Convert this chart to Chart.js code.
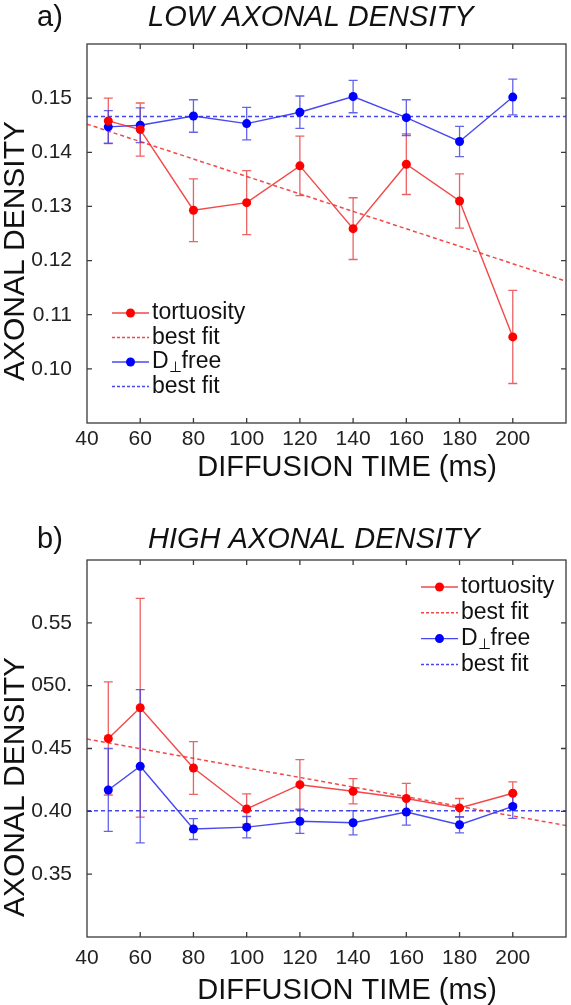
<!DOCTYPE html>
<html>
<head>
<meta charset="utf-8">
<script src="https://cdn.jsdelivr.net/npm/chart.js@4.4.1/dist/chart.umd.min.js"></script>
<style>
  html, body { margin: 0; padding: 0; background: #fff; }
  canvas { display: block; }
</style>
</head>
<body>
<canvas id="lowChart" width="571" height="500"></canvas>
<canvas id="highChart" width="571" height="505"></canvas>
<script>
const FONT = '"Liberation Sans", Arial, sans-serif';

// diffusion times (ms)
const times = [48, 60, 80, 100, 120, 140, 160, 180, 200];
const fitTimes = [40, 220];
const xTicks = [40, 60, 80, 100, 120, 140, 160, 180, 200];

// a) low axonal density
const lowTortuosity = [0.1458, 0.1442, 0.1293, 0.1307, 0.1375, 0.1259, 0.1378, 0.1310, 0.1059];
const lowTortuosityErr = [0.0042, 0.0049, 0.0058, 0.0059, 0.0055, 0.0057, 0.0056, 0.0050, 0.0086];
const lowDfree = [0.1447, 0.1450, 0.1467, 0.1453, 0.1474, 0.1503, 0.1464, 0.1420, 0.1502];
const lowDfreeErr = [0.0030, 0.0032, 0.0030, 0.0030, 0.0030, 0.0030, 0.0033, 0.0028, 0.0033];
const lowTortuosityFit = [0.1452, 0.1162];
const lowDfreeFit = [0.1466, 0.1466];
const lowYTicks = [0.10, 0.11, 0.12, 0.13, 0.14, 0.15];
const lowYTickLabels = ['0.10', '0.11', '0.12', '0.13', '0.14', '0.15'];

// b) high axonal density
const highTortuosity = [0.4580, 0.4824, 0.4345, 0.4019, 0.4212, 0.4160, 0.4102, 0.4027, 0.4144];
const highTortuosityErr = [0.045, 0.087, 0.021, 0.012, 0.020, 0.010, 0.012, 0.0075, 0.009];
const highDfree = [0.4170, 0.4359, 0.3859, 0.3874, 0.3921, 0.3909, 0.3995, 0.3893, 0.4039];
const highDfreeErr = [0.033, 0.061, 0.0083, 0.0085, 0.0097, 0.0097, 0.0105, 0.0065, 0.0095];
const highTortuosityFit = [0.4575, 0.3887];
const highDfreeFit = [0.4005, 0.4005];
const highYTicks = [0.35, 0.40, 0.45, 0.50, 0.55];
const highYTickLabels = ['0.35', '0.40', '0.45', '050.', '0.55'];

const RED = '#ff0000';
const BLUE = '#0000ff';
const RED_LINE = 'rgba(240, 40, 40, 0.85)';
const BLUE_LINE = 'rgba(40, 40, 240, 0.85)';
const RED_ERR = 'rgba(230, 60, 60, 0.8)';
const BLUE_ERR = 'rgba(60, 60, 230, 0.8)';

function toPoints(xs, ys) {
    return xs.map((x, i) => ({ x: x, y: ys[i] }));
}

function buildChart(id, cfg) {
    const canvas = document.getElementById(id);
    const H = canvas.height;

    // error bars, drawn under the markers
    const errorBars = {
        id: 'errorBars',
        beforeDatasetsDraw(chart) {
            const ctx = chart.ctx;
            const xs = chart.scales.x, ys = chart.scales.y;
            cfg.errors.forEach(e => {
                ctx.save();
                ctx.strokeStyle = e.color;
                ctx.lineWidth = 1.3;
                times.forEach((t, i) => {
                    const px = xs.getPixelForValue(t);
                    const top = ys.getPixelForValue(e.values[i] + e.err[i]);
                    const bot = ys.getPixelForValue(e.values[i] - e.err[i]);
                    ctx.beginPath();
                    ctx.moveTo(px, top); ctx.lineTo(px, bot);
                    ctx.moveTo(px - 4.5, top); ctx.lineTo(px + 4.5, top);
                    ctx.moveTo(px - 4.5, bot); ctx.lineTo(px + 4.5, bot);
                    ctx.stroke();
                });
                ctx.restore();
            });
        }
    };

    // box round the plot with inward ticks
    const frame = {
        id: 'frame',
        afterDraw(chart) {
            const ctx = chart.ctx, a = chart.chartArea;
            const xs = chart.scales.x, ys = chart.scales.y;
            ctx.save();
            ctx.strokeStyle = '#3a3a3a';
            ctx.lineWidth = 1.3;
            ctx.strokeRect(a.left, a.top, a.right - a.left, a.bottom - a.top);
            ctx.beginPath();
            xs.ticks.forEach(t => {
                if (t.value <= xs.min || t.value >= xs.max) return;
                const px = xs.getPixelForValue(t.value);
                ctx.moveTo(px, a.bottom); ctx.lineTo(px, a.bottom - 5);
                ctx.moveTo(px, a.top); ctx.lineTo(px, a.top + 5);
            });
            ys.ticks.forEach(t => {
                const py = ys.getPixelForValue(t.value);
                ctx.moveTo(a.left, py); ctx.lineTo(a.left + 5, py);
                ctx.moveTo(a.right, py); ctx.lineTo(a.right - 5, py);
            });
            ctx.stroke();
            ctx.restore();
        }
    };

    // panel letter, titles and legend
    const texts = {
        id: 'texts',
        afterDraw(chart) {
            const ctx = chart.ctx;
            ctx.save();
            ctx.fillStyle = '#111';
            ctx.textBaseline = 'middle';
            ctx.textAlign = 'left';
            ctx.font = '29px ' + FONT;
            ctx.fillText(cfg.letter, 37, cfg.titleY);
            ctx.font = 'italic 29px ' + FONT;
            ctx.fillText(cfg.title, 148, cfg.titleY);

            ctx.textAlign = 'center';
            ctx.font = '29px ' + FONT;
            ctx.fillText('DIFFUSION TIME (ms)', 347, cfg.xTitleY);

            ctx.save();
            ctx.translate(16, cfg.yTitleY);
            ctx.rotate(-Math.PI / 2);
            ctx.font = '30px ' + FONT;
            ctx.fillText('AXONAL DENSITY', 0, 0);
            ctx.restore();

            // legend
            const lg = cfg.legend;
            const items = [
                { color: RED_LINE, dot: RED, dash: false, label: 'tortuosity' },
                { color: RED_LINE, dot: null, dash: true, label: 'best fit' },
                { color: BLUE_LINE, dot: BLUE, dash: false, label: 'Dfree' },
                { color: BLUE_LINE, dot: null, dash: true, label: 'best fit' }
            ];
            items.forEach((it, i) => {
                const y = lg.y + i * lg.step;
                ctx.strokeStyle = it.color;
                ctx.lineWidth = it.dash ? 1.5 : 1.3;
                ctx.setLineDash(it.dash ? [3, 2] : []);
                ctx.beginPath();
                ctx.moveTo(lg.x, y); ctx.lineTo(lg.x + 37, y);
                ctx.stroke();
                ctx.setLineDash([]);
                if (it.dot) {
                    ctx.fillStyle = it.dot;
                    ctx.beginPath();
                    ctx.arc(lg.x + 18.5, y, 4.5, 0, Math.PI * 2);
                    ctx.fill();
                }
                ctx.fillStyle = '#111';
                ctx.textAlign = 'left';
                ctx.font = '23px ' + FONT;
                const tx = lg.x + 40;
                if (it.label === 'Dfree') {
                    ctx.fillText('D', tx, y);
                    const w = ctx.measureText('D').width;
                    ctx.font = '15px ' + FONT;
                    ctx.fillText('\u22A5', tx + w, y + 6);
                    const w2 = ctx.measureText('\u22A5').width;
                    ctx.font = '23px ' + FONT;
                    ctx.fillText('free', tx + w + w2, y);
                } else {
                    ctx.fillText(it.label, tx, y);
                }
            });
            ctx.restore();
        }
    };

    return new Chart(canvas, {
        type: 'line',
        data: {
            datasets: [
                {
                    data: toPoints(times, cfg.tortuosity),
                    borderColor: RED_LINE, borderWidth: 1.4,
                    backgroundColor: RED, pointRadius: 4.5, pointBorderWidth: 0,
                    pointBackgroundColor: RED
                },
                {
                    data: toPoints(times, cfg.dfree),
                    borderColor: BLUE_LINE, borderWidth: 1.4,
                    backgroundColor: BLUE, pointRadius: 4.5, pointBorderWidth: 0,
                    pointBackgroundColor: BLUE
                },
                {
                    data: toPoints(fitTimes, cfg.tortuosityFit),
                    borderColor: RED_LINE, borderWidth: 1.5, borderDash: [4, 3],
                    pointRadius: 0
                },
                {
                    data: toPoints(fitTimes, cfg.dfreeFit),
                    borderColor: BLUE_LINE, borderWidth: 1.5, borderDash: [4, 3],
                    pointRadius: 0
                }
            ]
        },
        options: {
            responsive: false,
            animation: false,
            devicePixelRatio: 1,
            layout: { padding: { top: cfg.plotTop, right: 5, left: 0, bottom: 0 } },
            plugins: { legend: { display: false }, tooltip: { enabled: false } },
            scales: {
                x: {
                    type: 'linear', min: 40, max: 220,
                    afterBuildTicks: s => { s.ticks = xTicks.map(v => ({ value: v })); },
                    afterFit: s => { s.height = H - cfg.plotBottom; },
                    grid: { display: false, drawTicks: false },
                    border: { display: false },
                    ticks: {
                        font: { family: FONT, size: 21 }, color: '#222',
                        padding: cfg.xTickPad, maxRotation: 0, autoSkip: false,
                        callback: v => String(v)
                    }
                },
                y: {
                    min: cfg.yMin, max: cfg.yMax,
                    afterBuildTicks: s => { s.ticks = cfg.yTicks.map(v => ({ value: v })); },
                    afterFit: s => { s.width = 87; },
                    grid: { display: false, drawTicks: false },
                    border: { display: false },
                    ticks: {
                        font: { family: FONT, size: 21 }, color: '#222',
                        padding: 15, autoSkip: false,
                        callback: (v, i) => cfg.yTickLabels[i]
                    }
                }
            }
        },
        plugins: [errorBars, frame, texts]
    });
}

buildChart('lowChart', {
    letter: 'a)', title: 'LOW AXONAL DENSITY', titleY: 18,
    plotTop: 44, plotBottom: 423, xTitleY: 468, yTitleY: 251, xTickPad: 4,
    yMin: 0.09, yMax: 0.16, yTicks: lowYTicks, yTickLabels: lowYTickLabels,
    tortuosity: lowTortuosity, dfree: lowDfree,
    tortuosityFit: lowTortuosityFit, dfreeFit: lowDfreeFit,
    errors: [
        { values: lowTortuosity, err: lowTortuosityErr, color: RED_ERR },
        { values: lowDfree, err: lowDfreeErr, color: BLUE_ERR }
    ],
    legend: { x: 112, y: 313, step: 24.5 }
});

buildChart('highChart', {
    letter: 'b)', title: 'HIGH AXONAL DENSITY', titleY: 40,
    plotTop: 60, plotBottom: 437, xTitleY: 491, yTitleY: 287, xTickPad: 9,
    yMin: 0.30, yMax: 0.60, yTicks: highYTicks, yTickLabels: highYTickLabels,
    tortuosity: highTortuosity, dfree: highDfree,
    tortuosityFit: highTortuosityFit, dfreeFit: highDfreeFit,
    errors: [
        { values: highTortuosity, err: highTortuosityErr, color: RED_ERR },
        { values: highDfree, err: highDfreeErr, color: BLUE_ERR }
    ],
    legend: { x: 421, y: 87, step: 25.8 }
});
</script>
</body>
</html>
